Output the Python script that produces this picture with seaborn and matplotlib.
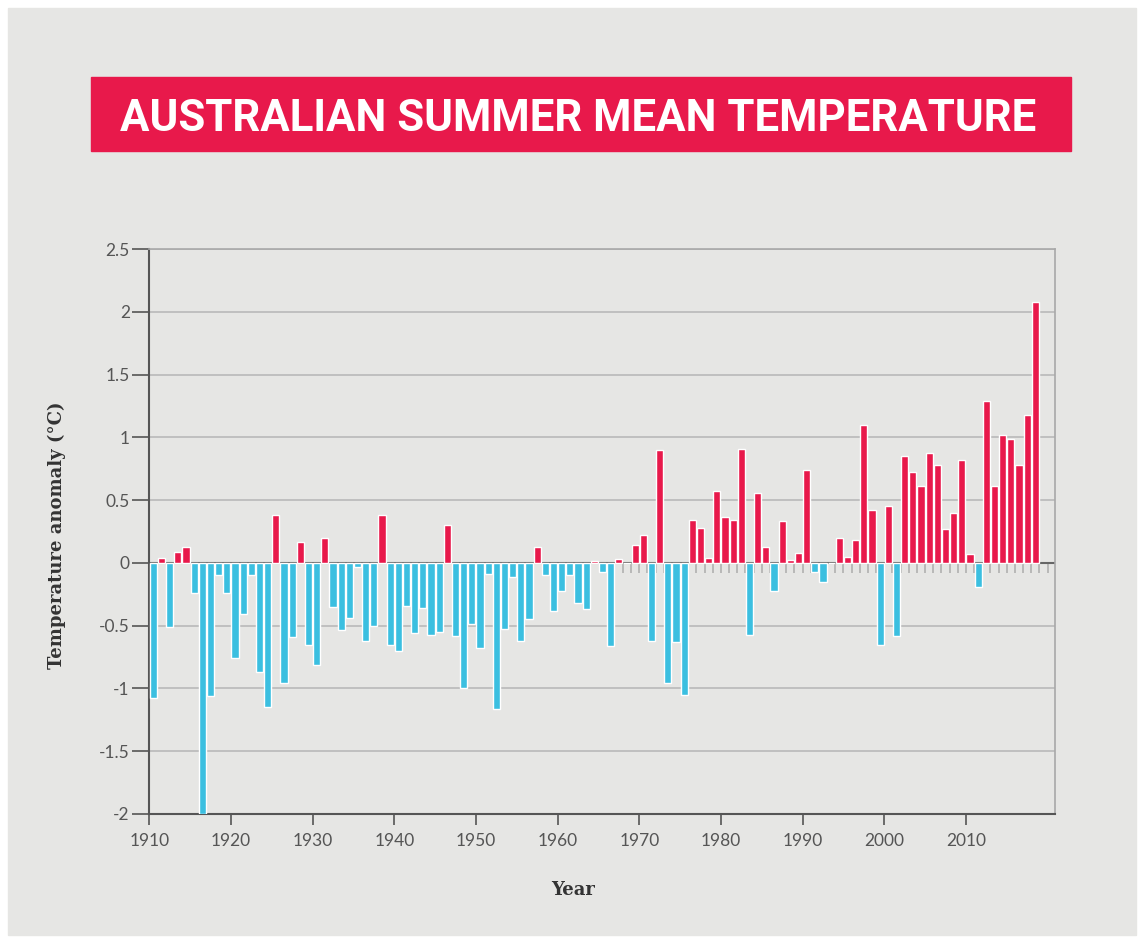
import numpy as np
import pandas as pd
import seaborn as sns
import matplotlib.pyplot as plt
from matplotlib.patches import Rectangle

# summer mean temperature anomaly (deg C), one value per year 1910-2018
years = np.arange(1910, 2019)
anomaly = [
    -1.08, 0.04, -0.51, 0.085, 0.13, -0.24, -2.0, -1.06, -0.10, -0.24,    # 1910s
    -0.76, -0.41, -0.10, -0.87, -1.145, 0.385, -0.96, -0.59, 0.17, -0.65,  # 1920s
    -0.81, 0.20, -0.35, -0.535, -0.44, -0.03, -0.62, -0.50, 0.385, -0.65,  # 1930s
    -0.70, -0.34, -0.56, -0.36, -0.575, -0.55, 0.30, -0.58, -1.00, -0.49,  # 1940s
    -0.68, -0.085, -1.165, -0.525, -0.11, -0.62, -0.45, 0.13, -0.10, -0.38,  # 1950s
    -0.22, -0.095, -0.32, -0.365, 0.015, -0.075, -0.66, 0.03, 0.0, 0.14,   # 1960s
    0.22, -0.62, 0.90, -0.955, -0.63, -1.05, 0.34, 0.28, 0.04, 0.57,      # 1970s
    0.365, 0.34, 0.91, -0.575, 0.555, 0.13, -0.22, 0.33, 0.02, 0.08,      # 1980s
    0.74, -0.07, -0.155, 0.0, 0.20, 0.045, 0.18, 1.095, 0.42, -0.655,     # 1990s
    0.455, -0.58, 0.855, 0.72, 0.61, 0.877, 0.78, 0.27, 0.40, 0.82,       # 2000s
    0.07, -0.19, 1.29, 0.61, 1.02, 0.99, 0.78, 1.18, 2.08,                # 2010s
]
decade_ticks = np.arange(1910, 2011, 10)
y_ticks = np.arange(-2, 2.51, 0.5)

title = "AUSTRALIAN SUMMER MEAN TEMPERATURE"
red = "#e8194b"
blue = "#3bbfe0"
bg = "#e6e6e4"

df = pd.DataFrame({"year": years, "anomaly": anomaly})
df["pos"] = df["year"] + 0.5
df["sign"] = np.where(df["anomaly"] >= 0, "warm", "cool")

sns.set_theme(style="white")
plt.rcParams["font.family"] = ["Lato", "DejaVu Sans"]

W, H = 1139, 939
fig = plt.figure(figsize=(W / 100, H / 100), dpi=100)
fig.patch.set_facecolor("white")

# grey card + red title banner
fig.add_artist(Rectangle((8 / W, 4 / H), 1128 / W, 927 / H,
                         transform=fig.transFigure, color=bg, zorder=0))
fig.add_artist(Rectangle((91 / W, (H - 151) / H), 980 / W, 74 / H,
                         transform=fig.transFigure, color=red, zorder=1))
fig.text(578 / W, (H - 131) / H, title, color="white", family="Roboto",
         weight="bold", fontsize=31.5, ha="center", va="baseline", zorder=2)

ax = fig.add_axes([149.3 / W, (H - 814) / H, (1055 - 149.3) / W, 565 / H])
ax.set_facecolor(bg)

sns.barplot(data=df, x="pos", y="anomaly", hue="sign",
            palette={"warm": red, "cool": blue}, native_scale=True,
            dodge=False, width=0.88, errorbar=None, legend=False,
            saturation=1, ax=ax, zorder=3)

# little grey marks hanging under the zero line from the late 60s on
marks = np.arange(1968, 2021)
ax.vlines(marks, -0.08, 0, color="#b0b0b0", lw=1.2, zorder=1)
ax.axhline(0, color="#666666", lw=1.5, zorder=2)

ax.set_xlim(1910, 2020.9)
ax.set_ylim(-2, 2.5)
ax.set_xticks(decade_ticks)
ax.set_xticklabels([str(y) for y in decade_ticks])
ax.set_yticks(y_ticks)
ax.set_yticklabels([f"{v:g}" for v in y_ticks])
ax.set_xlabel("")
ax.set_ylabel("")

ax.yaxis.grid(True, color="#b9b9b9", lw=1.2)
ax.set_axisbelow(True)
ax.tick_params(axis="y", length=12, width=1.2, color="#555555",
               labelsize=12.5, labelcolor="#555555", pad=2)
ax.tick_params(axis="x", length=8, width=1.2, color="#555555",
               labelsize=12.5, labelcolor="#555555", pad=6, bottom=True)
ax.tick_params(axis="y", left=True)
for side in ["left", "bottom"]:
    ax.spines[side].set_color("#555555")
    ax.spines[side].set_linewidth(1.5)
for side in ["top", "right"]:
    ax.spines[side].set_color("#a8a8a8")
    ax.spines[side].set_linewidth(1.2)

fig.text(57 / W, (H - 535) / H, "Temperature anomaly (°C)", rotation=90,
         family="DejaVu Serif", weight="bold", fontsize=13, color="#333333",
         ha="center", va="center")
fig.text(573 / W, (H - 890) / H, "Year", family="DejaVu Serif",
         weight="bold", fontsize=13, color="#333333", ha="center", va="center")

fig.savefig("out.png", dpi=100, facecolor=fig.get_facecolor())
